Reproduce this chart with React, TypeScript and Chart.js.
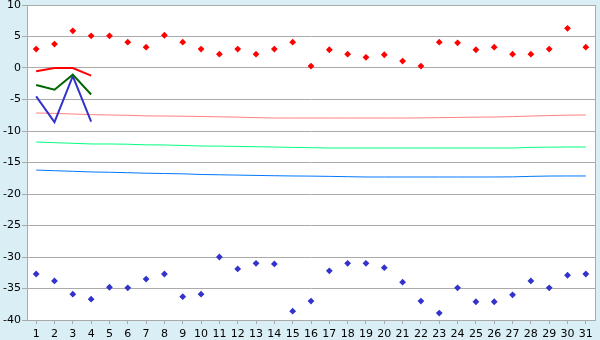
import React, { useEffect, useRef } from "react";
import { Chart, registerables } from "chart.js";

Chart.register(...registerables);

const days = ["1","2","3","4","5","6","7","8","9","10","11","12","13","14","15","16","17","18","19","20","21","22","23","24","25","26","27","28","29","30","31"];

const highPoints = [3.0, 3.8, 5.9, 5.1, 5.1, 4.1, 3.3, 5.2, 4.1, 3.0, 2.2, 3.0, 2.2, 3.0, 4.1, 0.3, 2.9, 2.2, 1.7, 2.1, 1.1, 0.3, 4.1, 4.0, 2.9, 3.3, 2.2, 2.2, 3.0, 6.3, 3.3];
const lowPoints = [-32.7, -33.8, -35.9, -36.7, -34.8, -34.9, -33.5, -32.7, -36.3, -35.9, -30.0, -31.9, -31.0, -31.1, -38.6, -37.0, -32.2, -31.0, -31.0, -31.7, -34.0, -37.0, -38.9, -34.9, -37.1, -37.1, -36.0, -33.8, -34.9, -32.9, -32.7];

const normHigh = [-7.14, -7.2, -7.3, -7.4, -7.46, -7.5, -7.6, -7.62, -7.65, -7.7, -7.75, -7.8, -7.88, -7.94, -7.94, -7.94, -7.94, -7.94, -7.94, -7.94, -7.94, -7.92, -7.88, -7.84, -7.8, -7.78, -7.72, -7.62, -7.55, -7.48, -7.46];
const normMean = [-11.75, -11.85, -11.95, -12.06, -12.06, -12.1, -12.2, -12.22, -12.3, -12.38, -12.4, -12.45, -12.5, -12.54, -12.6, -12.65, -12.7, -12.7, -12.7, -12.7, -12.7, -12.7, -12.7, -12.7, -12.7, -12.7, -12.7, -12.6, -12.56, -12.54, -12.54];
const normLow = [-16.2, -16.3, -16.4, -16.5, -16.55, -16.62, -16.7, -16.75, -16.8, -16.9, -16.95, -17.0, -17.05, -17.1, -17.14, -17.16, -17.2, -17.25, -17.3, -17.3, -17.3, -17.3, -17.3, -17.3, -17.3, -17.3, -17.28, -17.2, -17.15, -17.14, -17.14];

const actualHigh = [-0.5, 0.0, 0.0, -1.2];
const actualMean = [-2.7, -3.45, -1.06, -4.2];
const actualLow = [-4.5, -8.6, -1.3, -8.5];

const yMin = -40;
const yMax = 10;
const yStep = 5;

const bgPlugin = {
  id: "bgPlugin",
  beforeDraw(chart: any) {
    const { ctx, chartArea } = chart;
    ctx.save();
    ctx.fillStyle = "#DAEFF5";
    ctx.fillRect(0, 0, chart.width, chart.height);
    ctx.fillStyle = "#FFFFFF";
    ctx.fillRect(chartArea.left, chartArea.top, chartArea.right - chartArea.left, chartArea.bottom - chartArea.top);
    ctx.restore();
  },
  beforeDatasetsDraw(chart: any) {
    const { ctx, chartArea } = chart;
    ctx.save();
    ctx.strokeStyle = "#AAAAAA";
    ctx.lineWidth = 1;
    ctx.strokeRect(Math.round(chartArea.left) + 0.5, Math.round(chartArea.top) + 0.5, Math.round(chartArea.right - chartArea.left), Math.round(chartArea.bottom - chartArea.top));
    ctx.restore();
  },
};

export default function App() {
  const ref = useRef<HTMLCanvasElement>(null);
  useEffect(() => {
    document.body.style.margin = "0";
    const font = { family: "'DejaVu Sans', Verdana, sans-serif", size: 11 };
    const chart = new Chart(ref.current!, {
      type: "line",
      data: {
        labels: days,
        datasets: [
          { label: "high", data: highPoints, showLine: false, pointStyle: "rectRot", pointRadius: 3.4, backgroundColor: "#FF0000", borderColor: "#FF0000", borderWidth: 0, order: 1 },
          { label: "low", data: lowPoints, showLine: false, pointStyle: "rectRot", pointRadius: 3.4, backgroundColor: "#3333CC", borderColor: "#3333CC", borderWidth: 0, order: 1 },
          { label: "actHigh", data: actualHigh, borderColor: "#FF0000", borderWidth: 2, pointRadius: 0, order: 2 },
          { label: "actMean", data: actualMean, borderColor: "#006600", borderWidth: 2, pointRadius: 0, order: 2 },
          { label: "actLow", data: actualLow, borderColor: "#3333CC", borderWidth: 2, pointRadius: 0, order: 2 },
          { label: "normHigh", data: normHigh, borderColor: "#FF8080", borderWidth: 1, pointRadius: 0, order: 3 },
          { label: "normMean", data: normMean, borderColor: "#00FF80", borderWidth: 1, pointRadius: 0, order: 3 },
          { label: "normLow", data: normLow, borderColor: "#0078FF", borderWidth: 1, pointRadius: 0, order: 3 },
        ],
      },
      options: {
        responsive: false,
        animation: false,
        devicePixelRatio: 1,
        layout: { padding: { top: 5, right: 5, left: 0, bottom: 0 } },
        plugins: { legend: { display: false }, tooltip: { enabled: false } },
        scales: {
          x: {
            offset: true,
            grid: { offset: false, drawOnChartArea: false, drawTicks: true, tickLength: 4, color: "#AAAAAA" },
            border: { color: "#AAAAAA" },
            ticks: { color: "#000000", font, padding: 4, maxRotation: 0, autoSkip: false },
            afterFit: (s: any) => { s.height = 20; s.paddingLeft = 0; s.paddingRight = 0; },
          },
          y: {
            min: yMin,
            max: yMax,
            grid: { color: "#AAAAAA", tickLength: 5 },
            border: { color: "#AAAAAA" },
            ticks: { stepSize: yStep, color: "#000000", font, padding: 1 },
            afterFit: (s: any) => { s.width = 27; s.paddingTop = 0; s.paddingBottom = 0; },
          },
        },
      },
      plugins: [bgPlugin],
    });
    return () => chart.destroy();
  }, []);
  return (
    <div style={{ width: 600, height: 340 }}>
      <canvas ref={ref} width={600} height={340} style={{ display: "block" }} />
    </div>
  );
}
